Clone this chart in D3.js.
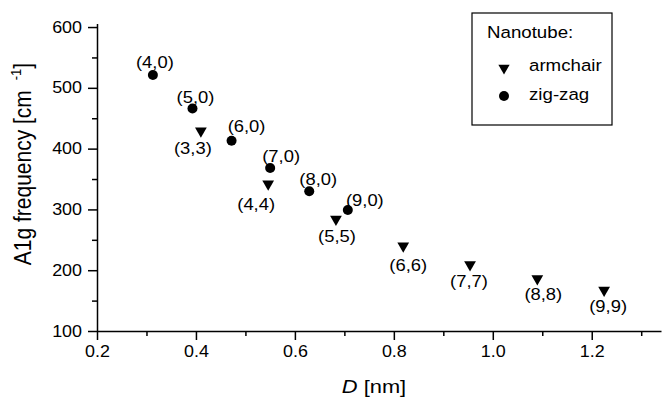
<!DOCTYPE html>
<html>
<head>
<meta charset="utf-8">
<script src="https://d3js.org/d3.v7.min.js"></script>
<style>
  body { margin: 0; background: #fff; }
  text { font-family: "Liberation Sans", Arial, sans-serif; fill: #000; }
</style>
</head>
<body>
<svg id="drawing_region"></svg>
<script>
// armchair tubes (triangles)
const armchairNames = ["(3,3)", "(4,4)", "(5,5)", "(6,6)", "(7,7)", "(8,8)", "(9,9)"];
const armchairD     = [0.410, 0.546, 0.683, 0.819, 0.954, 1.090, 1.225];
const armchairFreq  = [429, 342, 284, 240, 209, 186, 167];

// zig-zag tubes (circles)
const zigzagNames = ["(4,0)", "(5,0)", "(6,0)", "(7,0)", "(8,0)", "(9,0)"];
const zigzagD     = [0.313, 0.393, 0.472, 0.550, 0.629, 0.707];
const zigzagFreq  = [521, 466, 413, 368, 330, 299];

const xTicks = [0.2, 0.4, 0.6, 0.8, 1.0, 1.2];
const xMinorTicks = [0.3, 0.5, 0.7, 0.9, 1.1, 1.3];
const yTicks = [100, 200, 300, 400, 500, 600];
const yMinorTicks = [150, 250, 350, 450, 550];

const legendTitle = "Nanotube:";
const legendNames = ["armchair", "zig-zag"];

// where each label sits relative to its marker
const labelOffset = {
    "(4,0)": [2, -13], "(5,0)": [3, -11], "(6,0)": [15, -14], "(7,0)": [11, -12],
    "(8,0)": [9, -12], "(9,0)": [17, -10],
    "(3,3)": [-8, 17], "(4,4)": [-12, 21], "(5,5)": [1, 17], "(6,6)": [5, 19],
    "(7,7)": [-1, 17], "(8,8)": [6, 16], "(9,9)": [4, 16]
};

const config = {
    width: 663,
    height: 398,
    left: 97, right: 661,
    top: 23.4, bottom: 331
};

const svg = d3.select('#drawing_region')
    .attr('width', config.width)
    .attr('height', config.height);

const xscale = d3.scaleLinear().domain([0.2, 1.34]).range([config.left, config.right]);
const yscale = d3.scaleLinear().domain([100, 606]).range([config.bottom, config.top]);

const sx = 1.12;  // the scanned text is a bit wide

// minor ticks
svg.append('g')
    .attr('transform', `translate(0, ${config.bottom})`)
    .call(d3.axisBottom(xscale).tickValues(xMinorTicks).tickSize(5).tickSizeOuter(0).tickFormat(''))
    .call(g => g.select('.domain').remove());
svg.append('g')
    .attr('transform', `translate(${config.left}, 0)`)
    .call(d3.axisLeft(yscale).tickValues(yMinorTicks).tickSize(5).tickSizeOuter(0).tickFormat(''))
    .call(g => g.select('.domain').remove());

const xaxis_group = svg.append('g')
    .attr('transform', `translate(0, ${config.bottom})`)
    .call(d3.axisBottom(xscale).tickValues(xTicks).tickSize(9).tickSizeOuter(0).tickPadding(6)
        .tickFormat(d3.format('.1f')));

const yaxis_group = svg.append('g')
    .attr('transform', `translate(${config.left}, 0)`)
    .call(d3.axisLeft(yscale).tickValues(yTicks).tickSize(9).tickSizeOuter(0).tickFormat(d3.format('d')));

[xaxis_group, yaxis_group].forEach(g => {
    g.selectAll('path, line').attr('stroke', '#000').attr('stroke-width', 1.5);
    g.selectAll('text').attr('font-size', '16px').attr('font-family', '"Liberation Sans", Arial, sans-serif');
});
xaxis_group.selectAll('text').attr('transform', `scale(${sx},1)`);
yaxis_group.selectAll('text').attr('x', -15 / sx).attr('transform', `scale(${sx},1)`);
svg.selectAll('g line').attr('stroke', '#000').attr('stroke-width', 1.5);

// axis titles
svg.append('text')
    .attr('transform', `translate(${(config.left + config.right) / 2 - 5}, 393) scale(1.15,1)`)
    .attr('text-anchor', 'middle')
    .attr('font-size', '19px')
    .call(t => {
        t.append('tspan').attr('font-style', 'italic').text('D');
        t.append('tspan').text(' [nm]');
    });

svg.append('text')
    .attr('transform', `translate(31, 164) rotate(-90) scale(1,1.12)`)
    .attr('text-anchor', 'middle')
    .attr('font-size', '21px')
    .call(t => {
        t.append('tspan').text('A1g frequency [cm');
        t.append('tspan').attr('dx', 10).attr('dy', -9).attr('font-size', '13px').text('-1');
        t.append('tspan').attr('dy', 9).text(']');
    });

// points
const armchair = armchairNames.map((n, i) => ({ name: n, d: armchairD[i], f: armchairFreq[i] }));
const zigzag = zigzagNames.map((n, i) => ({ name: n, d: zigzagD[i], f: zigzagFreq[i] }));

const tri = d3.symbol().type(d3.symbolTriangle).size(60);

svg.selectAll('.arm')
    .data(armchair)
    .enter()
    .append('path')
    .attr('class', 'arm')
    .attr('d', tri)
    .attr('fill', '#000')
    .attr('transform', d => `translate(${xscale(d.d)}, ${yscale(d.f)}) rotate(180)`);

svg.selectAll('.zig')
    .data(zigzag)
    .enter()
    .append('circle')
    .attr('class', 'zig')
    .attr('cx', d => xscale(d.d))
    .attr('cy', d => yscale(d.f))
    .attr('r', 5)
    .attr('fill', '#000');

svg.selectAll('.lbl')
    .data(armchair.concat(zigzag))
    .enter()
    .append('text')
    .attr('class', 'lbl')
    .attr('transform', d => {
        const o = labelOffset[d.name];
        return `translate(${xscale(d.d) + o[0]}, ${yscale(d.f) + o[1]}) scale(1.15,1)`;
    })
    .attr('text-anchor', 'middle')
    .attr('dy', '0.35em')
    .attr('font-size', '16px')
    .text(d => d.name);

// legend
const legend = svg.append('g').attr('transform', 'translate(472, 13)');
legend.append('rect')
    .attr('width', 140).attr('height', 112)
    .attr('fill', 'none').attr('stroke', '#000').attr('stroke-width', 1.2);
legend.append('text')
    .attr('transform', `translate(15, 25) scale(1.1,1)`)
    .attr('font-size', '17px')
    .text(legendTitle);
legend.append('path')
    .attr('d', d3.symbol().type(d3.symbolTriangle).size(55))
    .attr('transform', 'translate(32, 55) rotate(180)');
legend.append('circle')
    .attr('cx', 32).attr('cy', 83).attr('r', 5);
legendNames.forEach((n, i) => {
    legend.append('text')
        .attr('transform', `translate(57, ${58 + i * 29}) scale(1.1,1)`)
        .attr('font-size', '17px')
        .text(n);
});
</script>
</body>
</html>
